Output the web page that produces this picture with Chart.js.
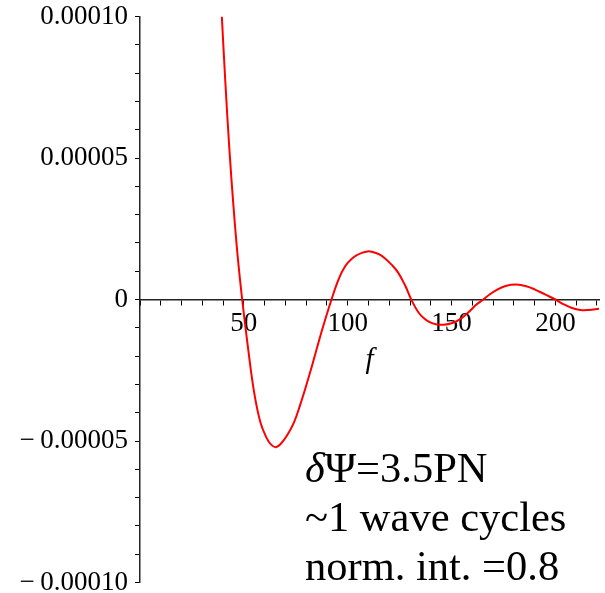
<!DOCTYPE html>
<html>
<head>
<meta charset="utf-8">
<script src="https://cdn.jsdelivr.net/npm/chart.js@4"></script>
<style>
  body { margin: 0; background: #fff; }
  #wrap { position: relative; width: 605px; height: 593px; }
  #note {
    position: absolute; left: 305px; top: 443px;
    font-family: "Liberation Serif", "Times New Roman", serif;
    font-size: 42.5px; line-height: 49px; color: #000; white-space: nowrap;
  }
</style>
</head>
<body>
<div id="wrap">
  <canvas id="myChart" width="605" height="593"></canvas>
  <div id="note"><i>δ</i>Ψ=3.5PN<br>~1 wave cycles<br>norm. int. =0.8</div>
</div>
<script>
// frequency f and dephasing values
const freq = [39.4, 41, 43, 45, 47, 49.2, 52, 55, 58, 61, 63, 65.4, 68, 71, 74.2, 77, 80, 83, 86.2, 89,
  92.2, 94.5, 96.6, 98, 100, 102, 104, 106.5, 109.5, 112, 115, 118, 121, 124.2, 127.5, 130.6,
  134, 137, 140, 143, 146.3, 150, 154, 158, 162, 165.3, 168, 172, 176, 181.3,
  186, 190, 195, 200, 204, 208, 212, 216, 221];
const dPsi = [10.0e-5, 7.8e-5, 5.35e-5, 3.3e-5, 1.55e-5, 0, -1.7e-5, -3.3e-5, -4.35e-5, -4.9e-5, -5.12e-5,
  -5.22e-5, -5.08e-5, -4.78e-5, -4.33e-5, -3.75e-5, -3.05e-5, -2.3e-5, -1.45e-5, -0.75e-5,
  0, 0.5e-5, 0.88e-5, 1.08e-5, 1.29e-5, 1.44e-5, 1.55e-5, 1.64e-5, 1.70e-5, 1.68e-5, 1.6e-5,
  1.45e-5, 1.24e-5, 0.96e-5, 0.52e-5, 0,
  -0.45e-5, -0.68e-5, -0.82e-5, -0.88e-5, -0.89e-5, -0.84e-5, -0.7e-5, -0.46e-5, -0.18e-5, 0,
  0.16e-5, 0.35e-5, 0.48e-5, 0.53e-5,
  0.47e-5, 0.36e-5, 0.18e-5, 0, -0.17e-5, -0.3e-5, -0.37e-5, -0.37e-5, -0.33e-5];

const xLabels = [50, 100, 150, 200];
const yLabels = [-10e-5, -5e-5, 0, 5e-5, 10e-5];

const serif = '"Liberation Serif", "Times New Roman", serif';

new Chart(document.getElementById('myChart'), {
  type: 'line',
  data: {
    datasets: [{
      data: freq.map((f, i) => ({x: f, y: dPsi[i]})),
      borderColor: '#ff0000',
      borderWidth: 2,
      pointRadius: 0,
      fill: false,
      tension: 0.4
    }]
  },
  options: {
    responsive: false,
    animation: false,
    devicePixelRatio: 1,
    layout: { padding: { top: 16.5, bottom: 10.5, left: 0, right: 6 } },
    plugins: { legend: { display: false }, tooltip: { enabled: false } },
    scales: {
      x: {
        type: 'linear',
        position: { y: 0 },
        min: 0,
        max: 221,
        grid: { drawOnChartArea: false, drawTicks: true, tickLength: 5, color: '#000' },
        border: { display: true, color: '#222', width: 1.5 },
        ticks: {
          stepSize: 10,
          includeBounds: false,
          autoSkip: false,
          maxRotation: 0,
          padding: 3,
          color: '#000',
          font: { family: serif, size: 27 },
          callback: (v) => xLabels.includes(v) ? String(v) : ''
        },
        title: {
          display: true,
          text: 'f',
          color: '#000',
          font: { family: serif, size: 29, style: 'italic' },
          padding: { top: 0, bottom: -78 }
        },
        afterFit: (s) => { s.height = 0; s.paddingLeft = 0; s.paddingRight = 0; }
      },
      y: {
        type: 'linear',
        position: 'left',
        min: -10e-5,
        max: 10e-5,
        grid: { drawOnChartArea: false, drawTicks: true, tickLength: 5, color: '#000' },
        border: { display: true, color: '#222', width: 1.5 },
        ticks: {
          stepSize: 1e-5,
          autoSkip: false,
          padding: 7,
          color: '#000',
          font: { family: serif, size: 27 },
          callback: (v) => {
            const k = Math.round(v / 1e-5);
            if (!yLabels.some((t) => Math.round(t / 1e-5) === k)) return '';
            if (k === 0) return '0';
            return (k < 0 ? '\u2212\u2009' : '') + Math.abs(k * 1e-5).toFixed(5);
          }
        },
        afterFit: (s) => { s.width = 140; s.paddingTop = 0; s.paddingBottom = 0; }
      }
    }
  }
});
</script>
</body>
</html>
